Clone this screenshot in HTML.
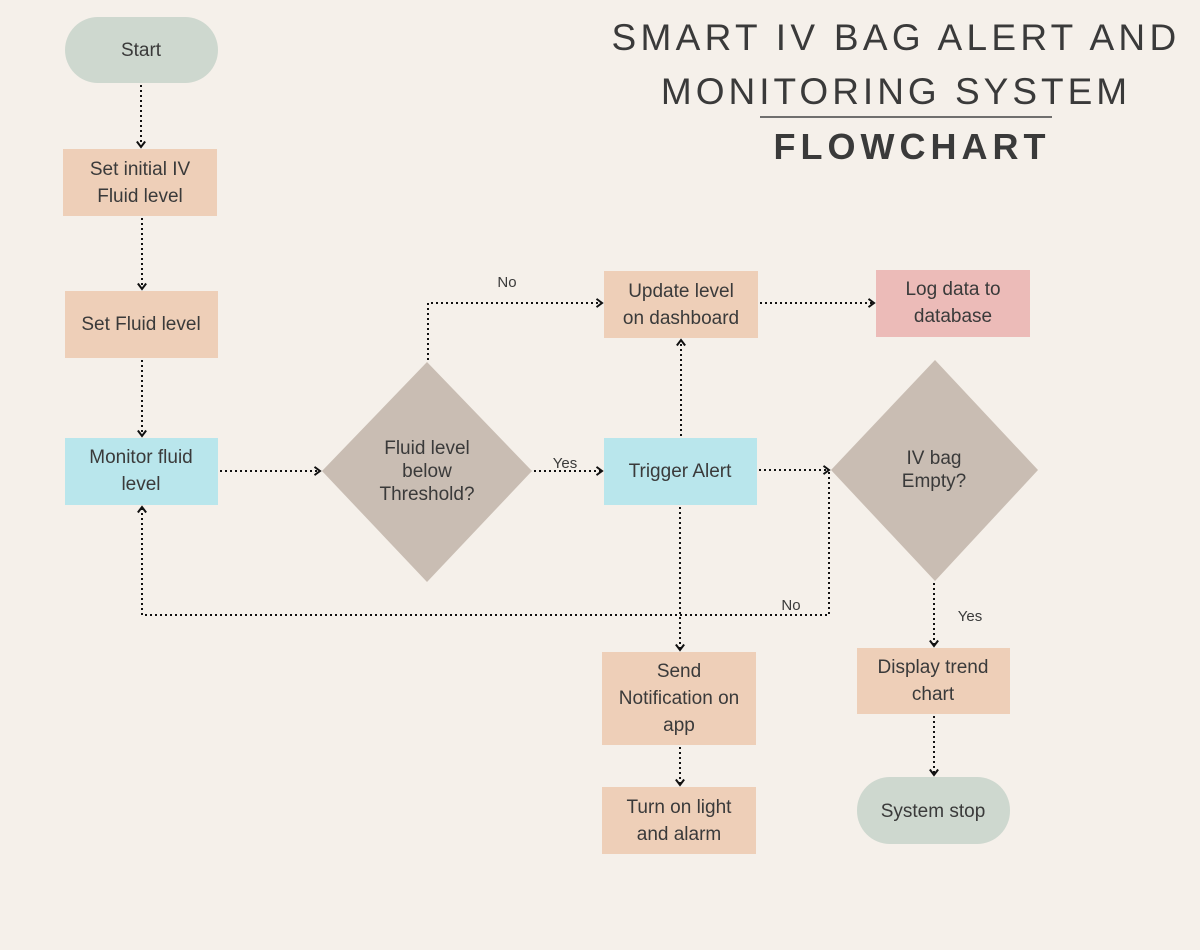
<!DOCTYPE html>
<html><head><meta charset="utf-8"><style>
body{margin:0;background:#f5f0ea;}
svg{display:block}
text{font-family:"Liberation Sans",sans-serif;fill:#3a3a3a}
</style></head><body>
<svg width="1200" height="950" viewBox="0 0 1200 950" xmlns="http://www.w3.org/2000/svg">
<rect width="1200" height="950" fill="#f5f0ea"/>
<defs><marker id="a" viewBox="0 0 12 12" refX="10" refY="6" markerWidth="11" markerHeight="11" orient="auto" markerUnits="userSpaceOnUse"><path d="M4,1.5 L10,6 L4,10.5" fill="none" stroke="#111" stroke-width="2.2"/></marker></defs>
<g text-anchor="middle">
<text x="896" y="50" font-size="37" letter-spacing="4.3" fill="#2e2e2e">SMART IV BAG ALERT AND</text>
<text x="896" y="104" font-size="37" letter-spacing="4" fill="#2e2e2e">MONITORING SYSTEM</text>
<text x="912" y="159" font-size="36" font-weight="bold" letter-spacing="5" fill="#2e2e2e">FLOWCHART</text>
</g>
<line x1="760" y1="117" x2="1052" y2="117" stroke="#444" stroke-width="1.5"/>
<g fill="none" stroke="#111" stroke-width="2" stroke-dasharray="2,3" marker-end="url(#a)">
<path d="M141,85 V147"/>
<path d="M142,218 V289"/>
<path d="M142,360 V436"/>
<path d="M220,471 H320"/>
<path d="M428,360 V303 H602"/>
<path d="M534,471 H602"/>
<path d="M681,436 V340"/>
<path d="M760,303 H874"/>
<path d="M759,470 H829"/>
<path d="M829,472 V615 H142 V507"/>
<path d="M680,507 V650"/>
<path d="M680,747 V785"/>
<path d="M934,583 V646"/>
<path d="M934,716 V775"/>
</g>
<rect x="65" y="17" width="153" height="66" rx="33" fill="#ced8cf"/>
<rect x="63" y="149" width="154" height="67" fill="#eecfb8"/>
<rect x="65" y="291" width="153" height="67" fill="#eecfb8"/>
<rect x="65" y="438" width="153" height="67" fill="#b9e6ec"/>
<polygon points="427,362 532,471 427,582 322,471" fill="#c9bdb3"/>
<rect x="604" y="271" width="154" height="67" fill="#eecfb8"/>
<rect x="876" y="270" width="154" height="67" fill="#ecbbb8"/>
<rect x="604" y="438" width="153" height="67" fill="#b9e6ec"/>
<polygon points="935,360 1038,470 935,581 831,470" fill="#c9bdb3"/>
<rect x="602" y="652" width="154" height="93" fill="#eecfb8"/>
<rect x="602" y="787" width="154" height="67" fill="#eecfb8"/>
<rect x="857" y="648" width="153" height="66" fill="#eecfb8"/>
<rect x="857" y="777" width="153" height="67" rx="33" fill="#ced8cf"/>
<g text-anchor="middle" font-size="19">
<text x="141" y="56">Start</text>
<text x="140" y="175">Set initial IV</text><text x="140" y="202">Fluid level</text>
<text x="141" y="330">Set Fluid level</text>
<text x="141" y="463">Monitor fluid</text><text x="141" y="490">level</text>
<text x="427" y="454">Fluid level</text><text x="427" y="477">below</text><text x="427" y="500">Threshold?</text>
<text x="681" y="297">Update level</text><text x="681" y="324">on dashboard</text>
<text x="953" y="295">Log data to</text><text x="953" y="322">database</text>
<text x="680" y="477">Trigger Alert</text>
<text x="934" y="464">IV bag</text><text x="934" y="487">Empty?</text>
<text x="679" y="677">Send</text><text x="679" y="704">Notification on</text><text x="679" y="731">app</text>
<text x="679" y="813">Turn on light</text><text x="679" y="840">and alarm</text>
<text x="933" y="673">Display trend</text><text x="933" y="700">chart</text>
<text x="933" y="817">System stop</text>
</g>
<g text-anchor="middle" font-size="15" fill="#444">
<text x="507" y="287">No</text>
<text x="565" y="468">Yes</text>
<text x="791" y="610">No</text>
<text x="970" y="621">Yes</text>
</g>
</svg>
</body></html>
